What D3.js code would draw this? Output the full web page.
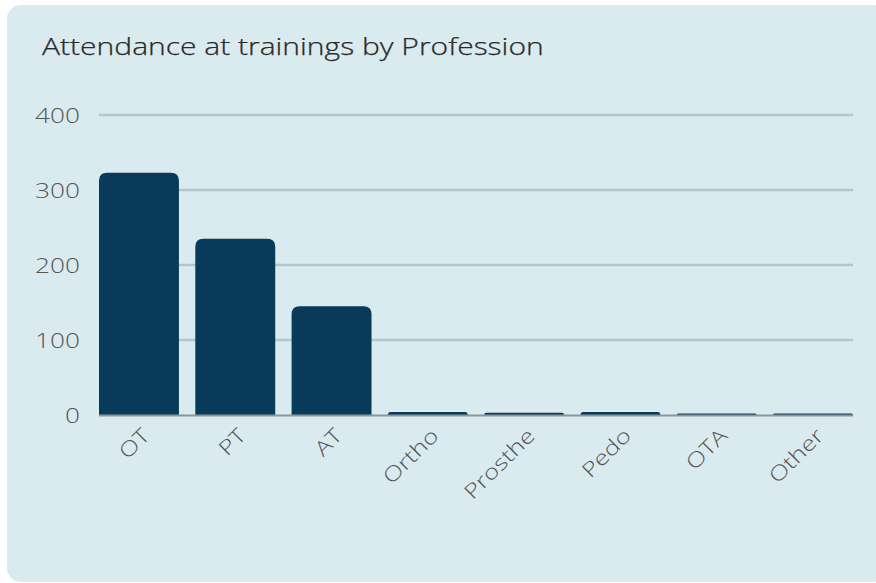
<!DOCTYPE html>
<html>
<head>
<meta charset="utf-8">
<script src="https://cdn.jsdelivr.net/npm/d3@7"></script>
<style>
  html, body { margin: 0; padding: 0; background: #ffffff; }
  svg { display: block; }
  text { font-family: "Open Sans", "Noto Sans", sans-serif; font-weight: 300; }
</style>
</head>
<body>
<script>
const title = "Attendance at trainings by Profession";
const categories = ["OT", "PT", "AT", "Ortho", "Prosthe", "Pedo", "OTA", "Other"];
const values = [323, 235, 145, 4, 3, 4, 2, 2];
const yTicks = [0, 100, 200, 300, 400];

const W = 876, H = 583;
const WIDEN = 1.25;
const svg = d3.select("body").append("svg").attr("width", W).attr("height", H);

function widen(sel) {
  sel.each(function () {
    const len = this.getComputedTextLength();
    d3.select(this).attr("textLength", len * WIDEN).attr("lengthAdjust", "spacingAndGlyphs");
  });
}

svg.append("rect").attr("x", 7).attr("y", 5).attr("width", 880).attr("height", 577)
  .attr("rx", 14).attr("fill", "#d9ebef");

svg.append("text").attr("x", 42).attr("y", 55).attr("fill", "#2a2a2a")
  .attr("font-size", 24).attr("stroke", "#2a2a2a").attr("stroke-width", 0.25)
  .text(title).call(widen);

const x = d3.scaleBand().domain(categories).range([99, 853]).paddingInner(0.17).paddingOuter(0);
const y = d3.scaleLinear().domain([0, 400]).range([415, 115]);

// gridlines
svg.append("g").selectAll("line").data(yTicks.filter(d => d > 0)).join("line")
  .attr("x1", 99).attr("x2", 853)
  .attr("y1", d => y(d)).attr("y2", d => y(d))
  .attr("stroke", "#b5c6cb").attr("stroke-width", 2.5);

// y labels
svg.append("g").selectAll("text").data(yTicks).join("text")
  .attr("x", 80).attr("y", d => y(d)).attr("dy", "0.36em")
  .attr("text-anchor", "end").attr("fill", "#555").attr("font-size", 21)
  .text(d => d).call(widen);

// bars with rounded top
const r = 8;
svg.append("g").selectAll("path").data(categories).join("path")
  .attr("fill", "#083a5a")
  .attr("d", (c, i) => {
    const x0 = x(c), w = x.bandwidth(), yt = y(values[i]), yb = y(0);
    const rr = Math.min(r, (yb - yt));
    return `M${x0},${yb} V${yt + rr} Q${x0},${yt} ${x0 + rr},${yt} H${x0 + w - rr} Q${x0 + w},${yt} ${x0 + w},${yt + rr} V${yb} Z`;
  });

// baseline
svg.append("line").attr("x1", 99).attr("x2", 853).attr("y1", y(0) + 0.5).attr("y2", y(0) + 0.5)
  .attr("stroke", "#8c9599").attr("stroke-width", 2);

// x labels
svg.append("g").selectAll("text").data(categories).join("text")
  .attr("transform", c => `translate(${x(c) + x.bandwidth() / 2 + 12},${437}) rotate(-45)`)
  .attr("text-anchor", "end").attr("fill", "#555").attr("font-size", 20.5)
  .text(c => c).call(widen);
</script>
</body>
</html>
